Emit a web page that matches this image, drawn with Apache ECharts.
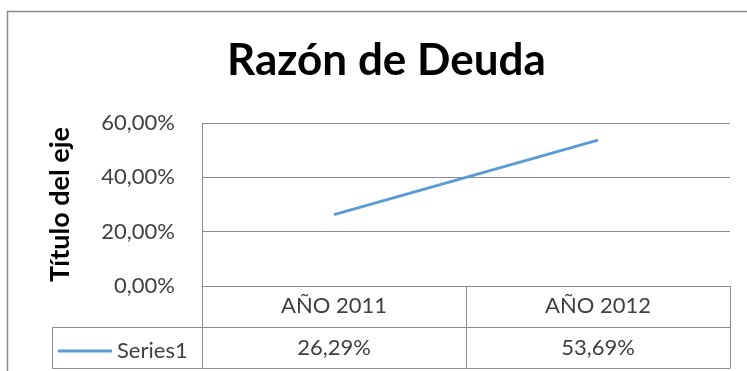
<!DOCTYPE html>
<html>
<head>
<meta charset="utf-8">
<script src="https://cdn.jsdelivr.net/npm/echarts@6/dist/echarts.min.js"></script>
<style>
  html, body { margin: 0; padding: 0; background: #fff; }
  #chart { width: 747px; height: 371px; }
</style>
</head>
<body>
<div id="chart"></div>
<script>
// Debt ratio by year
const categories = ['AÑO 2011', 'AÑO 2012'];
const debtRatio = [0.2629, 0.5369];
const yTicks = [0, 0.2, 0.4, 0.6];
const seriesName = 'Series1';

const FONT = 'Lato';
const GRAY = '#8c8c8c';
const TEXT = '#404040';

const pct = v => (v * 100).toFixed(2).replace('.', ',') + '%';

const chart = echarts.init(document.getElementById('chart'), null, { renderer: 'canvas' });

const gridL = 202, gridR = 730, gridT = 123, gridB = 286;
const rowH = 41;

chart.setOption({
  backgroundColor: '#fff',
  animation: false,
  textStyle: { fontFamily: FONT },
  title: {
    text: 'Razón de Deuda',
    left: 222,
    top: 34,
    textStyle: { fontFamily: FONT, fontWeight: 'bold', fontSize: 44, color: '#000' }
  },
  legend: {
    data: [seriesName],
    left: 53,
    top: gridB + rowH + 8,
    icon: 'rect',
    itemWidth: 54,
    itemHeight: 3,
    itemGap: 6,
    textStyle: { fontFamily: FONT, fontSize: 22, color: TEXT }
  },
  grid: { left: gridL, right: 747 - gridR, top: gridT, bottom: 371 - gridB },
  xAxis: [
    {
      type: 'category',
      data: categories,
      boundaryGap: true,
      axisLine: { show: true, lineStyle: { color: GRAY, width: 1 } },
      axisTick: { show: true, length: rowH * 2, lineStyle: { color: GRAY } },
      axisLabel: { fontFamily: FONT, fontSize: 22, color: TEXT, margin: 9 }
    },
    {
      type: 'category',
      data: categories,
      position: 'bottom',
      offset: rowH,
      boundaryGap: true,
      axisLine: { show: true, lineStyle: { color: GRAY, width: 1 } },
      axisTick: { show: false },
      axisLabel: {
        fontFamily: FONT, fontSize: 22, color: TEXT, margin: 10,
        formatter: (v, i) => pct(debtRatio[i])
      }
    },
    {
      type: 'category',
      data: categories,
      position: 'bottom',
      offset: rowH * 2,
      boundaryGap: true,
      axisLine: { show: true, lineStyle: { color: GRAY, width: 1 } },
      axisTick: { show: false },
      axisLabel: { show: false }
    }
  ],
  yAxis: {
    type: 'value',
    min: yTicks[0],
    max: yTicks[yTicks.length - 1],
    interval: yTicks[1] - yTicks[0],
    name: 'Título del eje',
    nameLocation: 'middle',
    nameRotate: 90,
    nameGap: 128,
    nameTextStyle: { fontFamily: FONT, fontWeight: 'bold', fontSize: 27, color: '#000' },
    axisLine: { show: true, lineStyle: { color: GRAY, width: 1 } },
    axisTick: { show: false },
    axisLabel: { fontFamily: FONT, fontSize: 22, color: TEXT, margin: 27, formatter: v => pct(v) },
    splitLine: { show: true, lineStyle: { color: GRAY, width: 1 } }
  },
  series: [{
    name: seriesName,
    type: 'line',
    data: debtRatio,
    symbol: 'none',
    lineStyle: { color: '#5b9bd5', width: 3 },
    itemStyle: { color: '#5b9bd5' },
    label: {
      show: true,
      position: 'right',
      distance: 19,
      fontFamily: FONT,
      fontSize: 23,
      color: TEXT,
      formatter: p => p.dataIndex === debtRatio.length - 1 ? pct(p.value) : ''
    }
  }],
  graphic: [
    {
      type: 'rect',
      shape: { x: 7.5, y: 11.5, width: 760, height: 400 },
      style: { fill: null, stroke: '#8a8a8a', lineWidth: 1.5 },
      silent: true
    },
    {
      type: 'rect',
      shape: { x: 52.5, y: gridB + rowH + 0.5, width: gridL - 52, height: rowH },
      style: { fill: null, stroke: GRAY, lineWidth: 1 },
      silent: true
    }
  ]
});
</script>
</body>
</html>
